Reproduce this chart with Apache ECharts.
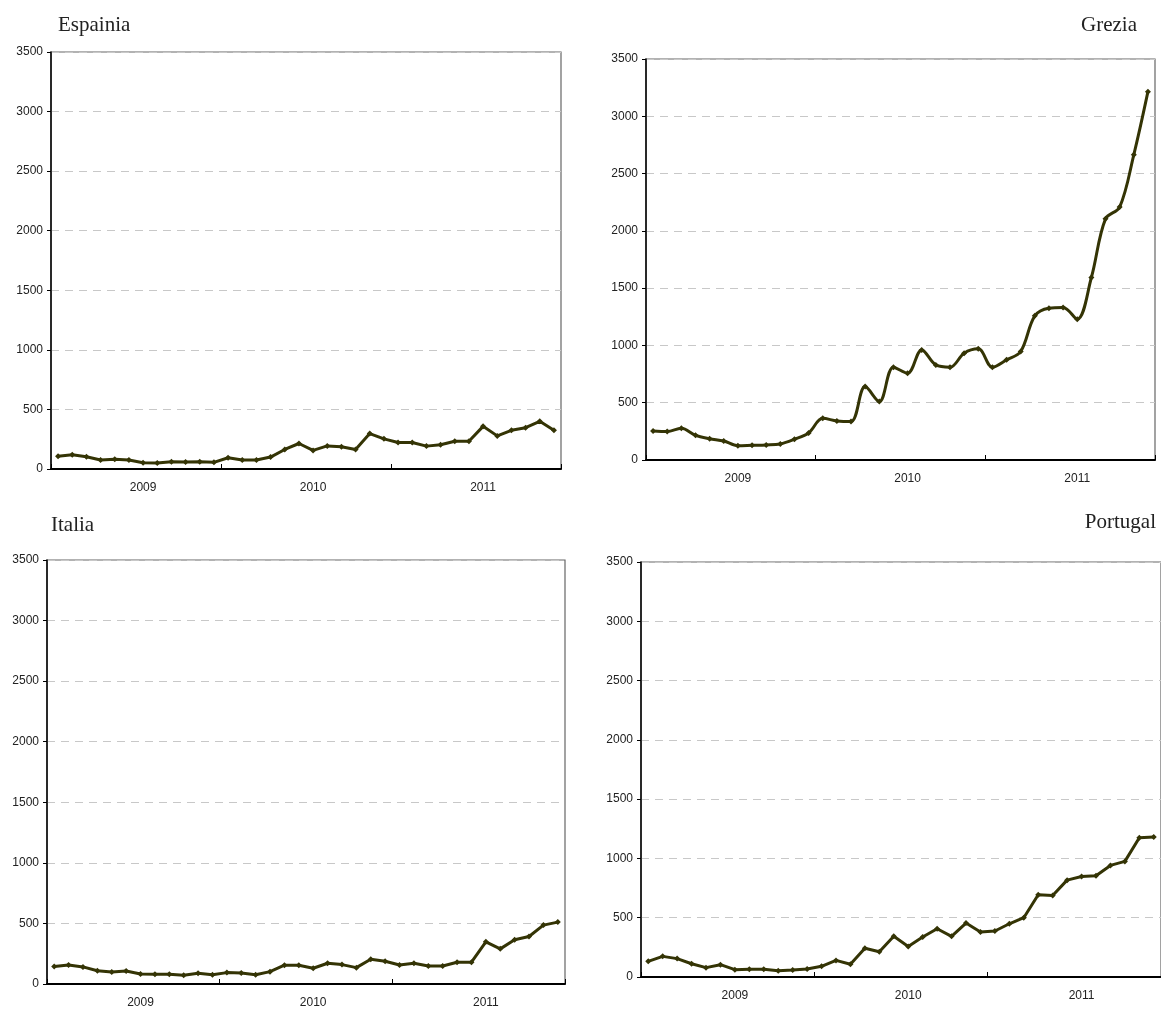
<!DOCTYPE html>
<html>
<head>
<meta charset="utf-8">
<script src="https://cdn.jsdelivr.net/npm/echarts@6/dist/echarts.min.js"></script>
<style>
html,body{margin:0;padding:0;background:#fff;}
#chart{width:1161px;height:1010px;}
</style>
</head>
<body>
<div id="chart"></div>
<script>
// ---- data ----
var years = ['2009', '2010', '2011'];
var months = ['01','02','03','04','05','06','07','08','09','10','11','12'];
var yTicks = [0, 500, 1000, 1500, 2000, 2500, 3000, 3500];
var titles = ['Espainia', 'Grezia', 'Italia', 'Portugal'];

var espainia = [108,119,103,75,81,75,53,50,61,58,61,56,
                94,75,75,100,164,214,156,194,186,164,297,253,
                222,222,192,203,233,233,358,278,325,347,400,325];
var grezia   = [253,248,277,216,186,166,125,128,131,140,181,236,
                364,341,335,641,510,810,757,961,830,810,932,970,
                810,874,947,1258,1325,1331,1229,1593,2105,2208,2664,3215];
var italia   = [144,157,141,110,99,108,83,80,80,72,88,77,
                94,91,77,102,155,155,130,171,160,135,204,188,
                157,171,149,149,180,180,348,290,365,392,486,511];
var portugal = [132,174,155,112,79,104,62,65,65,53,59,67,
                90,140,107,242,213,343,258,337,407,343,455,379,
                388,449,500,694,688,817,848,854,941,975,1175,1180];

var categories = [];
years.forEach(function (y) { months.forEach(function (m) { categories.push(y + '-' + m); }); });

var seriesData = [espainia, grezia, italia, portugal];
var smoothFlags = [false, 0.35, false, false];

// ---- layout ----
var grids = [
  {left: 51, top: 52, width: 510, height: 417},
  {left: 646, top: 59, width: 509, height: 401},
  {left: 47, top: 560, width: 518, height: 424},
  {left: 641, top: 562, width: 528, height: 415}
];
var titlePos = [
  {left: 58, top: 13},
  {right: 24, top: 13},
  {left: 51, top: 513},
  {right: 5, top: 510}
];

var lineColor = '#343405';

var option = {
  backgroundColor: '#ffffff',
  animation: false,
  title: titles.map(function (t, i) {
    return Object.assign({
      text: t,
      padding: 0,
      textStyle: {fontFamily: 'Liberation Serif', fontSize: 21, fontWeight: 'normal', color: '#222', lineHeight: 24}
    }, titlePos[i]);
  }),
  grid: grids.map(function (g) {
    return Object.assign({show: true, borderColor: '#666', borderWidth: 1.2, backgroundColor: '#fff', containLabel: false}, g);
  }),
  xAxis: grids.map(function (g, i) {
    return {
      type: 'category',
      gridIndex: i,
      data: categories,
      boundaryGap: true,
      axisLine: {show: true, lineStyle: {color: '#000', width: 2}},
      axisTick: {
        show: true, inside: true, length: 5,
        lineStyle: {color: '#000', width: 1},
        interval: function (idx) { return idx % 12 === 0; }
      },
      axisLabel: {
        show: true, margin: 13,
        fontFamily: 'Liberation Sans', fontSize: 12, color: '#222',
        interval: function (idx) { return idx % 12 === 6; },
        formatter: function (v) { return v.slice(0, 4); }
      },
      splitLine: {show: false}
    };
  }),
  yAxis: grids.map(function (g, i) {
    return {
      type: 'value',
      gridIndex: i,
      min: yTicks[0],
      max: yTicks[yTicks.length - 1],
      interval: yTicks[1] - yTicks[0],
      axisLine: {show: true, lineStyle: {color: '#000', width: 1.5}},
      axisTick: {show: true, inside: false, length: 4, lineStyle: {color: '#000', width: 1}},
      axisLabel: {show: true, margin: 8, fontFamily: 'Liberation Sans', fontSize: 12, color: '#222',
                  formatter: function (v) { return String(v); }},
      splitLine: {show: true, lineStyle: {color: '#c8c8c8', width: 1, type: [8, 6]}}
    };
  }),
  series: seriesData.map(function (d, i) {
    return {
      type: 'line',
      xAxisIndex: i,
      yAxisIndex: i,
      data: d,
      smooth: smoothFlags[i],
      symbol: 'diamond',
      symbolSize: 6,
      showSymbol: true,
      lineStyle: {color: lineColor, width: 3},
      itemStyle: {color: lineColor}
    };
  })
};

var chart = echarts.init(document.getElementById('chart'), null, {renderer: 'canvas'});
chart.setOption(option);
</script>
</body>
</html>
